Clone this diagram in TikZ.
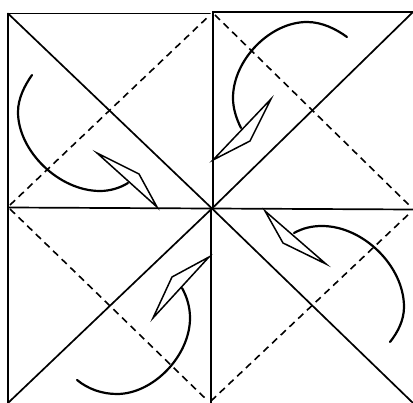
\documentclass[tikz,border=0pt]{standalone}
\tikzset{
  fold/.style={line width=1.7pt,black,line cap=round},
  crease/.style={line width=1.6pt,black,dash pattern=on 7pt off 5pt},
  kite/.style={line width=1.5pt,black,line join=miter},
  sweep/.style={line width=2.2pt,black,line cap=round}
}
\begin{document}
\begin{tikzpicture}[x=1pt,y=-1pt]
\useasboundingbox (0,0) rectangle (413,403);
% squares
\draw[fold] (8,207) -- (8,13.5) -- (210,13.5);
\draw[fold] (213,209) -- (213,12) -- (413,12);
\draw[fold] (8,207.5) -- (413,209.5);
\draw[fold] (8,207) -- (8,403);
\draw[fold] (211,208) -- (211,403);
% solid diagonals
\draw[fold] (8,13.5) -- (212,208.5) -- (413,12);
\draw[fold] (8,403) -- (212,208.5) -- (413,403);
% dashed diagonals
\draw[crease] (10,205) -- (210,15);
\draw[crease] (215,15) -- (411,207);
\draw[crease] (10,209) -- (208,401);
\draw[crease] (211,401) -- (411,212);
% kites
\draw[kite] (97,153) -- (139,174) -- (157,207) -- cycle;
\draw[kite] (271,99) -- (250,141) -- (213,160) -- cycle;
\draw[kite] (153,318) -- (172,277) -- (209,257) -- cycle;
\draw[kite] (326,264) -- (283,243) -- (265,211) -- cycle;
% arcs
\draw[sweep] (32,75) .. controls (25,85) and (18,98) .. (18,112) .. controls (18,151) and (59,191) .. (100,191) .. controls (110,191) and (120,188) .. (128,183);
\draw[sweep] (241,128) .. controls (236,118) and (233,108) .. (233,98) .. controls (233,60) and (270,22) .. (307,22) .. controls (322,22) and (336,29) .. (347,37);
\draw[sweep] (182,288) .. controls (187,297) and (190,307) .. (190,318) .. controls (190,356) and (153,394) .. (117,394) .. controls (102,394) and (88,389) .. (77,380);
\draw[sweep] (294,233) .. controls (303,228) and (312,226) .. (322,226) .. controls (363,226) and (404,266) .. (404,307) .. controls (404,320) and (398,332) .. (390,342);
\end{tikzpicture}
\end{document}
